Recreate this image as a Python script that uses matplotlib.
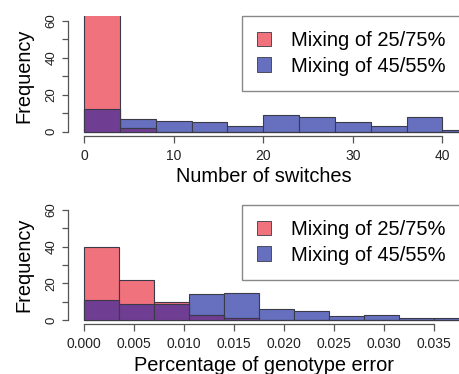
#!/usr/bin/env python
import matplotlib
matplotlib.use('Agg')
import matplotlib.pyplot as plt
import numpy as np

# histogram counts
switch_edges = np.arange(0, 48, 4)
switch_25_75 = [74, 2, 0, 0, 0, 0, 0, 0, 0, 0, 0]
switch_45_55 = [12, 7, 6, 5, 3, 9, 8, 5, 3, 8, 1]
switch_ticks = [0, 10, 20, 30, 40]

error_edges = np.arange(12) * 0.0035
error_25_75 = [40, 22, 10, 3, 1, 0, 0, 0, 0, 0, 0]
error_45_55 = [11, 9, 9, 14, 15, 6, 5, 2, 3, 1, 1]
error_ticks = [0.000, 0.005, 0.010, 0.015, 0.020, 0.025, 0.030, 0.035]

freq_ticks = [0, 10, 20, 30, 40, 50, 60]
labels = ['Mixing of 25/75%', 'Mixing of 45/55%']

RED = '#f0727d'
BLUE = '#6670bf'
PURPLE = '#6f3e92'
EDGE = '#3a3a48'
AXC = '#555555'

plt.rcParams['font.family'] = ['Liberation Sans', 'DejaVu Sans']

W, H = 459, 374
fig = plt.figure(figsize=(W / 100, H / 100), dpi=100)


def px_axes(left, top, right, bottom):
    return fig.add_axes([left / W, 1 - bottom / H, (right - left) / W, (bottom - top) / H])


def draw_panel(ax, edges, red, blue, xlim, xticks, xticklabels, xlabel, leg_top):
    red = np.array(red)
    blue = np.array(blue)
    lo = edges[:-1]
    wd = np.diff(edges)
    hb = ax.bar(lo, blue, width=wd, align='edge', color=BLUE, edgecolor=EDGE, linewidth=0.8)
    hr = ax.bar(lo, red, width=wd, align='edge', color=RED, edgecolor=EDGE, linewidth=0.8)
    ax.bar(lo, np.minimum(red, blue), width=wd, align='edge', color=PURPLE,
           edgecolor=EDGE, linewidth=0.8)
    ax.set_xlim(xlim)
    ax.set_ylim(-2.4, 62.4)
    for s in ['top', 'right']:
        ax.spines[s].set_visible(False)
    ax.spines['left'].set_bounds(0, 60)
    ax.spines['bottom'].set_bounds(xticks[0], xticks[-1])
    for s in ['left', 'bottom']:
        ax.spines[s].set_color(AXC)
        ax.spines[s].set_linewidth(0.9)
    ax.set_xticks(xticks)
    ax.set_xticklabels(xticklabels, fontsize=10, color='#222222')
    ax.set_yticks(freq_ticks)
    ax.set_yticklabels([str(t) if t % 20 == 0 else '' for t in freq_ticks],
                       rotation=90, va='center', fontsize=9.5, color='#222222')
    ax.tick_params(axis='x', length=5, width=0.9, color=AXC, pad=4)
    ax.tick_params(axis='y', length=4.5, width=0.9, color=AXC, pad=3.5)
    ax.set_xlabel(xlabel, fontsize=14.4, labelpad=3.5)
    ax.set_ylabel('Frequency', fontsize=14.4, labelpad=8.5)
    leg = fig.legend([hr, hb], labels, loc='upper left',
                     bbox_to_anchor=(241.7 / W, 1 - leg_top / H),
                     bbox_transform=fig.transFigure, borderaxespad=0,
                     fontsize=14.5, handlelength=0.7, handleheight=0.7,
                     handletextpad=1.0, borderpad=0.75, labelspacing=0.32,
                     fancybox=False, framealpha=1)
    leg.get_frame().set_edgecolor('#888888')
    leg.get_frame().set_linewidth(1.0)
    for p in leg.get_patches():
        p.set_edgecolor(EDGE)
        p.set_linewidth(0.6)


ax1 = px_axes(68.3, 16.3, 459, 136.1)
draw_panel(ax1, switch_edges, switch_25_75, switch_45_55, (-1.75, 41.85),
           switch_ticks, [str(t) for t in switch_ticks], 'Number of switches', 16)

ax2 = px_axes(68.3, 205.6, 459, 324.4)
draw_panel(ax2, error_edges, error_25_75, error_45_55, (-0.00157, 0.03753),
           error_ticks, ['%.3f' % t for t in error_ticks],
           'Percentage of genotype error', 205)

fig.savefig('out.png', dpi=100)
